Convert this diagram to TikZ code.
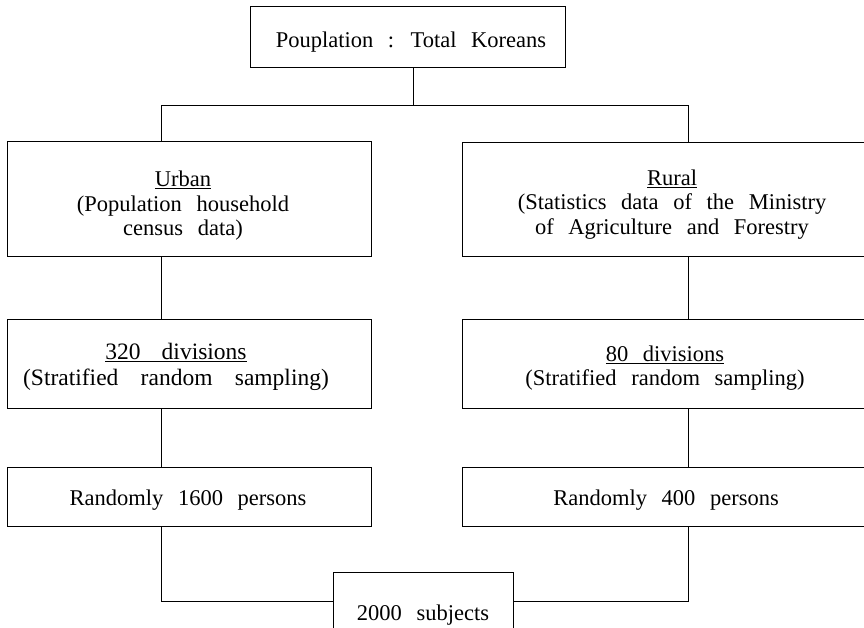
\documentclass[tikz,border=0pt]{standalone}
\usepackage{fontspec}
\setmainfont{Liberation Serif}[WordSpace=2.6]
\begin{document}
\begin{tikzpicture}[x=1pt,y=-1pt,
  box/.style={draw=black, line width=1pt, inner sep=0pt},
  txt/.style={inner sep=0pt, align=center, text=black,
    font=\fontsize{22.5}{24.5}\selectfont},
  conn/.style={draw=black, line width=1pt}]
\useasboundingbox (0,0) rectangle (864,628);
\clip (0,0) rectangle (864,628);
% boxes
\node[box, minimum width=315pt, minimum height=61pt] (top) at (407.5,37.5) {};
\node[box, minimum width=364pt, minimum height=115pt] (u1) at (189,199.5) {};
\node[box, minimum width=406pt, minimum height=114pt] (r1) at (665,200) {};
\node[box, minimum width=364pt, minimum height=89pt] (u2) at (189,363.5) {};
\node[box, minimum width=406pt, minimum height=89pt] (r2) at (665,363.5) {};
\node[box, minimum width=364pt, minimum height=59pt] (u3) at (189,496.5) {};
\node[box, minimum width=406pt, minimum height=59pt] (r3) at (665,496.5) {};
\node[box, minimum width=180pt, minimum height=80pt] (s) at (423,612) {};
% texts
\node[txt] (t0) at (411,42) {Pouplation : Total Koreans};
\node[txt] (t1) at (183,206) {\underline{Urban}\\(Population household\\census data)};
\node[txt] (t2) at (672,204.5) {\underline{Rural}\\(Statistics data of the Ministry\\of Agriculture and Forestry};
\node[txt, font=\fontsize{23.5}{26}\selectfont] (t3) at (176,367)
  {\underline{320\hspace{0.9em}divisions}\\(Stratified\hspace{0.95em}random\hspace{0.95em}sampling)};
\node[txt] (t4) at (665,368) {\underline{80 divisions}\\(Stratified random sampling)};
\node[txt] (t5) at (188,500.5) {Randomly 1600 persons};
\node[txt] (t6) at (666,500.5) {Randomly 400 persons};
\node[txt] (t7) at (423,615) {2000 subjects};
% coordinates for connector lines
\coordinate (ct) at (413,106);
\coordinate (cl) at (161,106);
\coordinate (cr) at (688,106);
\coordinate (cb) at (0,601);
% connectors
\draw[conn] (top.south -| ct) -- (ct);
\draw[conn] (u1.north -| cl) -- (cl) -- (cr) -- (r1.north -| cr);
\draw[conn] (u1.south -| cl) -- (u2.north -| cl);
\draw[conn] (r1.south -| cr) -- (r2.north -| cr);
\draw[conn] (u2.south -| cl) -- (u3.north -| cl);
\draw[conn] (r2.south -| cr) -- (r3.north -| cr);
\draw[conn] (u3.south -| cl) -- (cl |- cb) -- (s.west |- cb);
\draw[conn] (r3.south -| cr) -- (cr |- cb) -- (s.east |- cb);
\end{tikzpicture}
\end{document}
